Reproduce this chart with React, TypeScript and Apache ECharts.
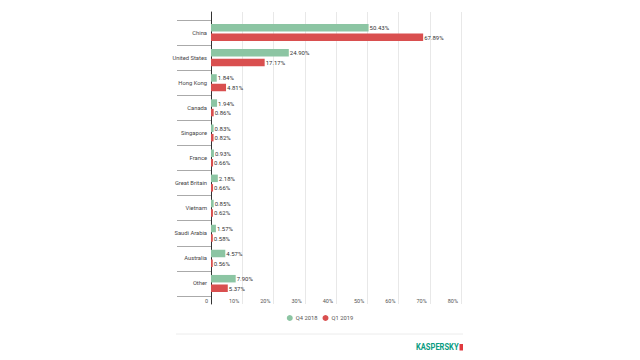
import React, { useEffect, useRef } from "react";
import * as echarts from "echarts";

const categories = [
  "China",
  "United States",
  "Hong Kong",
  "Canada",
  "Singapore",
  "France",
  "Great Britain",
  "Vietnam",
  "Saudi Arabia",
  "Australia",
  "Other",
];
const q42018 = [50.43, 24.9, 1.84, 1.94, 0.83, 0.93, 2.18, 0.85, 1.57, 4.57, 7.9];
const q12019 = [67.89, 17.17, 4.81, 0.86, 0.82, 0.66, 0.66, 0.62, 0.58, 0.56, 5.37];
const seriesNames = ["Q4 2018", "Q1 2019"];
const xMax = 80;
const xInterval = 10;

const GREEN = "#8cc5a3";
const RED = "#d94f4f";
const FONT = "Roboto, 'Noto Sans', sans-serif";

export default function App() {
  const ref = useRef<HTMLDivElement>(null);
  useEffect(() => {
    if (!ref.current) return;
    const chart = echarts.init(ref.current, undefined, { renderer: "svg" });
    const labelCfg = {
      show: true,
      position: "right" as const,
      distance: 1,
      fontSize: 6,
      color: "#333",
      fontFamily: FONT,
      formatter: (p: any) => Number(p.value).toFixed(2) + "%",
    };
    chart.setOption({
      animation: false,
      backgroundColor: "#fff",
      textStyle: { fontFamily: FONT },
      grid: [
        { left: 211, width: 250, top: 20, height: 276 },
        { left: 211, width: 250, top: 12, height: 292 },
      ],
      legend: {
        data: seriesNames,
        left: "center",
        top: 310,
        icon: "circle",
        itemWidth: 6,
        itemHeight: 6,
        itemGap: 5,
        textStyle: { fontSize: 5.8, color: "#555", fontFamily: FONT, padding: [0, 0, 0, -2] },
      },
      xAxis: [
        { gridIndex: 0, type: "value", min: 0, max: xMax, show: false },
        {
          gridIndex: 1,
          type: "value",
          min: 0,
          max: xMax,
          interval: xInterval,
          axisLine: { show: false },
          axisTick: { show: false },
          splitLine: { show: true, lineStyle: { color: "#e8e8e8", width: 1 } },
          axisLabel: {
            inside: true,
            margin: 0,
            align: "right",
            verticalAlign: "bottom",
            padding: [0, 3, 0, 0],
            fontSize: 5.5,
            color: "#555",
            fontFamily: FONT,
            formatter: (v: number) => (v === 0 ? "0" : v + "%"),
          },
        },
      ],
      yAxis: [
        {
          gridIndex: 0,
          type: "category",
          data: categories,
          inverse: true,
          axisLine: { show: false },
          axisTick: { show: true, length: 34, lineStyle: { color: "#aaa" } },
          axisLabel: { margin: 4, fontSize: 5.8, color: "#444", fontFamily: FONT },
          splitLine: { show: false },
        },
        {
          gridIndex: 1,
          type: "value",
          min: 0,
          max: 1,
          axisLine: { show: true, lineStyle: { color: "#333", width: 1 } },
          axisTick: { show: false },
          axisLabel: { show: false },
          splitLine: { show: false },
        },
      ],
      series: [
        {
          name: seriesNames[0],
          type: "bar",
          xAxisIndex: 0,
          yAxisIndex: 0,
          data: q42018,
          barWidth: 7.5,
          barGap: "27%",
          itemStyle: { color: GREEN },
          label: labelCfg,
        },
        {
          name: seriesNames[1],
          type: "bar",
          xAxisIndex: 0,
          yAxisIndex: 0,
          data: q12019,
          barWidth: 7.5,
          barGap: "27%",
          itemStyle: { color: RED },
          label: labelCfg,
        },
      ],
      graphic: [
        {
          type: "line",
          shape: { x1: 176, y1: 334, x2: 463, y2: 334 },
          style: { stroke: "#ececec", lineWidth: 1 },
        },
        {
          type: "text",
          x: 416,
          y: 347,
          scaleX: 0.84,
          style: {
            text: "KASPERSKY",
            fontSize: 9,
            fontWeight: "bold",
            fontFamily: "Roboto, sans-serif",
            fill: "#0a9c82",
            align: "left",
            verticalAlign: "middle",
          },
        },
        {
          type: "rect",
          shape: { x: 459.5, y: 344, width: 3.5, height: 6.5 },
          style: { fill: "#e0393e" },
        },
      ],
    });
    return () => chart.dispose();
  }, []);
  return (
    <div
      ref={ref}
      style={{ position: "absolute", left: 0, top: 0, width: 640, height: 360 }}
    />
  );
}
